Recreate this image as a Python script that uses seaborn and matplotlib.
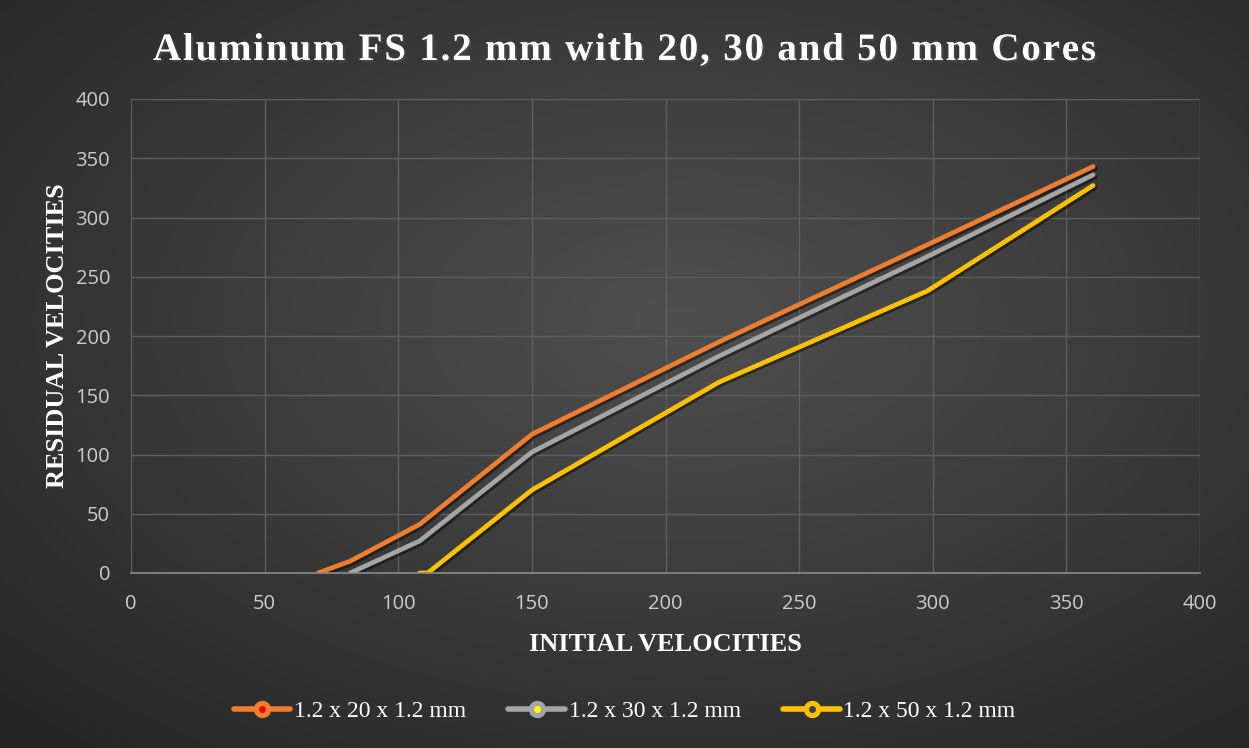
import numpy as np
import pandas as pd
import matplotlib
matplotlib.use("Agg")
import matplotlib.pyplot as plt
import matplotlib.patheffects as pe
from matplotlib.lines import Line2D
from matplotlib.legend_handler import HandlerTuple
from matplotlib.font_manager import FontProperties
from matplotlib.textpath import TextToPath
import seaborn as sns

# ---- data ----
title = "Aluminum FS 1.2 mm with 20, 30 and 50 mm Cores"
series_names = ["1.2 x 20 x 1.2 mm", "1.2 x 30 x 1.2 mm", "1.2 x 50 x 1.2 mm"]
x_20 = [70, 82, 108, 150, 220, 298, 360]
y_20 = [0, 10, 41, 117, 195, 277, 343]
x_30 = [82, 108, 150, 220, 298, 360]
y_30 = [0, 27, 102, 183, 267, 336]
x_50 = [108, 111, 150, 220, 298, 360]
y_50 = [0, 0, 70, 161, 238, 327]
x_ticks = [0, 50, 100, 150, 200, 250, 300, 350, 400]
y_ticks = [0, 50, 100, 150, 200, 250, 300, 350, 400]
colors = ["#ED7D31", "#A5A5A5", "#FFC000"]
center_colors = ["#FF0000", "#FFFF00", "#404040"]

df = pd.concat([
    pd.DataFrame({"x": x_20, "y": y_20, "series": series_names[0]}),
    pd.DataFrame({"x": x_30, "y": y_30, "series": series_names[1]}),
    pd.DataFrame({"x": x_50, "y": y_50, "series": series_names[2]}),
], ignore_index=True)

sns.set_theme(style="dark")
W, H = 1249, 748
fig = plt.figure(figsize=(W / 100, H / 100), dpi=100)

# background gradient
bg = fig.add_axes([0, 0, 1, 1], zorder=-10)
yy, xx = np.mgrid[0:H, 0:W]
d = np.sqrt(((xx - 680) / W) ** 2 + ((yy - 320) / H) ** 2)
val = 0.31 - 0.16 * np.clip(d / 0.75, 0, 1)
img = np.dstack([val, val, val])
bg.imshow(img, aspect="auto", extent=[0, 1, 0, 1], interpolation="bilinear")
bg.axis("off")

ax = fig.add_axes([131 / W, 1 - 573 / H, (1200 - 131) / W, (573 - 99) / H])
ax.set_facecolor((0, 0, 0, 0))
ax.patch.set_alpha(0)

sns.lineplot(data=df, x="x", y="y", hue="series", palette=colors, sort=False,
             estimator=None, legend=False, linewidth=3.4, ax=ax)
for line in ax.get_lines():
    line.set_solid_capstyle("round")
    line.set_solid_joinstyle("round")
    line.set_path_effects([pe.SimpleLineShadow(offset=(1.5, -1.5), shadow_color="black", alpha=0.45),
                           pe.Normal()])

ax.set_xlim(0, 400)
ax.set_ylim(0, 400)
ax.set_xticks(x_ticks)
ax.set_yticks(y_ticks)
ax.grid(True, color="#5e5e5e", linewidth=1)
for s in ["top", "right", "left"]:
    ax.spines[s].set_visible(False)
ax.spines["bottom"].set_visible(True)
ax.spines["bottom"].set_color("#8a8a8a")
ax.spines["bottom"].set_linewidth(1.2)
ax.tick_params(colors="#cccccc", labelsize=14.5, length=0)
ax.tick_params(axis="y", pad=15)
ax.tick_params(axis="x", pad=15)
for lab in ax.get_xticklabels() + ax.get_yticklabels():
    lab.set_family(["Open Sans", "DejaVu Sans"])
    lab.set_color("#cccccc")

ax.set_xlabel("INITIAL VELOCITIES", family=["Liberation Serif"], fontweight="bold",
              fontsize=19, color="white", labelpad=14)
ax.set_ylabel("RESIDUAL VELOCITIES", family=["Liberation Serif"], fontweight="bold",
              fontsize=19, color="white", labelpad=5)

# title with letter spacing
tprop = FontProperties(family="Liberation Serif", weight="bold", size=28)
ttp = TextToPath()
widths = [ttp.get_text_width_height_descent(ch, tprop, ismath=False)[0] * 100 / 72 for ch in title]
target_w = 943
spacing = (target_w - sum(widths)) / (len(title) - 1)
xpos = (W - target_w) / 2
for ch, w in zip(title, widths):
    if ch != " ":
        fig.text(xpos / W, 1 - 46 / H, ch, ha="left", va="center_baseline",
                 fontproperties=tprop, color="white",
                 path_effects=[pe.withSimplePatchShadow(offset=(1.5, -1.5), alpha=0.6)])
    xpos += w + spacing

handles = []
for c, cc in zip(colors, center_colors):
    l = Line2D([], [], color=c, linewidth=4, solid_capstyle="round")
    m = Line2D([], [], marker="o", markersize=11.5, markerfacecolor=c,
               markeredgecolor=c, linestyle="none")
    m2 = Line2D([], [], marker="o", markersize=4, markerfacecolor=cc,
                markeredgecolor=cc, linestyle="none")
    handles.append((l, m, m2))
leg = fig.legend(handles, series_names, loc="center", bbox_to_anchor=(0.5, 1 - 711 / H),
                 ncol=3, frameon=False, handler_map={tuple: HandlerTuple(ndivide=1, pad=0)},
                 handlelength=2.4, columnspacing=1.8, handletextpad=0.15,
                 prop={"family": "Liberation Serif", "size": 17})
for t in leg.get_texts():
    t.set_color("white")

fig.savefig("out.png", dpi=100)
